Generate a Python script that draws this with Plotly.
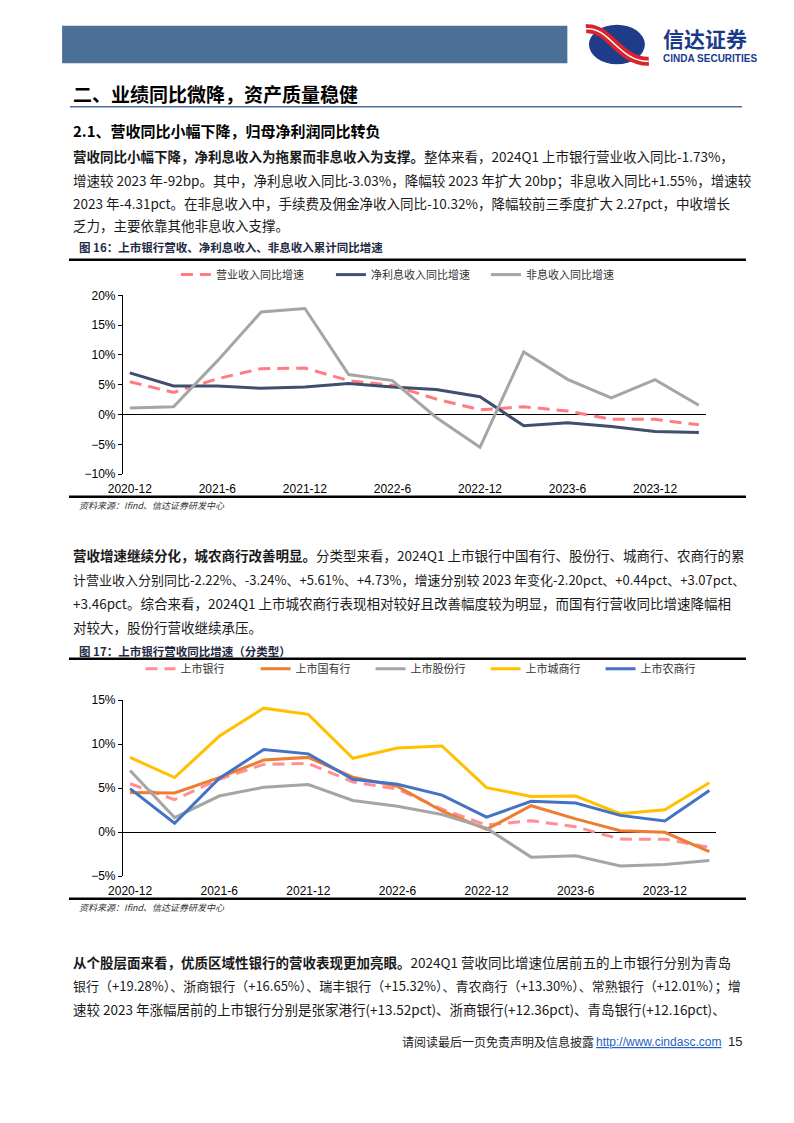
import plotly.graph_objects as go

W, H = 794, 1123
CJK = "Noto Sans CJK SC"
NUM = "Liberation Sans"

quarters = ["2020-12", "2021-3", "2021-6", "2021-9", "2021-12", "2022-3", "2022-6",
            "2022-9", "2022-12", "2023-3", "2023-6", "2023-9", "2023-12", "2024-3"]
tick_labels = ["2020-12", "2021-6", "2021-12", "2022-6", "2022-12", "2023-6", "2023-12"]

# 图16 (%)
rev_growth = [5.5, 3.7, 6.0, 7.7, 7.8, 5.7, 4.9, 2.6, 0.8, 1.3, 0.6, -0.8, -0.81, -1.73]
nii_growth = [7.0, 4.8, 4.8, 4.4, 4.6, 5.2, 4.6, 4.2, 3.0, -1.9, -1.4, -2.0, -2.83, -3.03]
nonii_growth = [1.1, 1.3, 9.0, 17.2, 17.8, 6.7, 5.7, -0.5, -5.5, 10.5, 5.9, 2.8, 5.86, 1.55]

# 图17 (%)
listed_banks = rev_growth
state_owned = [4.5, 4.45, 6.2, 8.2, 8.5, 6.25, 5.2, 2.4, 0.3, 3.0, 1.5, 0.15, -0.02, -2.22]
joint_stock = [7.0, 1.65, 4.1, 5.1, 5.4, 3.6, 2.95, 2.0, 0.45, -2.85, -2.7, -3.86, -3.68, -3.24]
city_comm = [8.5, 6.2, 10.9, 14.1, 13.4, 8.4, 9.56, 9.8, 5.06, 4.05, 4.1, 2.1, 2.54, 5.61]
rural_comm = [4.95, 1.0, 6.1, 9.4, 8.9, 6.0, 5.45, 4.2, 1.7, 3.5, 3.3, 1.9, 1.27, 4.73]


def px(x):
    return x / W


def py(y):
    return 1 - y / H


def note(x, y, s, size=13.5, color="#1a1a1a", family=CJK, xanchor="left"):
    return dict(x=px(x), y=py(y), xref="paper", yref="paper", text=s, showarrow=False,
                xanchor=xanchor, yanchor="middle", font=dict(family=family, size=size, color=color))


def hline(x0, x1, y, color="black", width=2.5):
    return dict(type="line", xref="paper", yref="paper", x0=px(x0), x1=px(x1),
                y0=py(y), y1=py(y), line=dict(color=color, width=width))


fig = go.Figure()

# chart 1
c1 = [
    ("营业收入同比增速", rev_growth, "#FF7C80", "12px,7px"),
    ("净利息收入同比增速", nii_growth, "#404F6E", "solid"),
    ("非息收入同比增速", nonii_growth, "#A5A5A5", "solid"),
]
for name, vals, color, dash in c1:
    fig.add_trace(go.Scatter(x=quarters, y=vals, mode="lines", name=name,
                             line=dict(color=color, width=3, dash=dash),
                             xaxis="x", yaxis="y", legend="legend"))

# chart 2
c2 = [
    ("上市银行", listed_banks, "#FF8F94", "12px,7px"),
    ("上市国有行", state_owned, "#ED7D31", "solid"),
    ("上市股份行", joint_stock, "#A5A5A5", "solid"),
    ("上市城商行", city_comm, "#FFC000", "solid"),
    ("上市农商行", rural_comm, "#4472C4", "solid"),
]
for name, vals, color, dash in c2:
    fig.add_trace(go.Scatter(x=quarters, y=vals, mode="lines", name=name,
                             line=dict(color=color, width=3, dash=dash),
                             xaxis="x2", yaxis="y2", legend="legend2"))

# plot geometry (page pixels)
d1_y = [py(473), py(292)]
d2_y = [py(880), py(702)]
y1_range = [-10, 20]
y2_range = [-5, 15]
x1_range = [-0.157, 13.157]
x2_range = [-0.16, 13.16]
zero1 = d1_y[0] + (0 - y1_range[0]) / (y1_range[1] - y1_range[0]) * (d1_y[1] - d1_y[0])
zero2 = d2_y[0] + (0 - y2_range[0]) / (y2_range[1] - y2_range[0]) * (d2_y[1] - d2_y[0])
tick_pos = [quarters.index(t) - 0.14 for t in tick_labels]

xlab = dict(type="category", categoryorder="array", categoryarray=quarters,
            tickmode="array", tickvals=tick_labels, ticktext=tick_labels,
            showline=False, showgrid=False, zeroline=False, ticks="", ticklabelstandoff=6,
            tickfont=dict(family=NUM, size=12, color="black"))
ystyle = dict(showline=True, linecolor="black", linewidth=1, ticks="outside", ticklen=4,
              tickcolor="black", ticksuffix="%", dtick=5, showgrid=False,
              zeroline=True, zerolinecolor="black", zerolinewidth=1,
              tickfont=dict(family=NUM, size=12, color="black"))
xtick = dict(type="linear", tickmode="array", tickvals=tick_pos, showticklabels=False,
             ticks="outside", ticklen=4, tickcolor="black", showgrid=False,
             zeroline=False, showline=False, anchor="free")

fig.update_layout(
    width=W, height=H, margin=dict(l=0, r=0, t=0, b=0),
    paper_bgcolor="white", plot_bgcolor="white",
    xaxis=dict(domain=[px(110), px(704)], range=x1_range, anchor="y", **xlab),
    yaxis=dict(domain=d1_y, range=y1_range, anchor="x", **ystyle),
    xaxis2=dict(domain=[px(110), px(715)], range=x2_range, anchor="y2", **xlab),
    yaxis2=dict(domain=d2_y, range=y2_range, anchor="x2", **ystyle),
    xaxis3=dict(domain=[px(110), px(704)], range=x1_range, overlaying="x", position=zero1, **xtick),
    xaxis4=dict(domain=[px(110), px(715)], range=x2_range, overlaying="x2", position=zero2, **xtick),
    legend=dict(orientation="h", x=px(401), xanchor="center", y=py(271), yanchor="middle",
                entrywidth=110, entrywidthmode="pixels",
                font=dict(family=CJK, size=11, color="#333333"), bgcolor="rgba(0,0,0,0)"),
    legend2=dict(orientation="h", x=px(421), xanchor="center", y=py(670), yanchor="middle",
                 entrywidth=70, entrywidthmode="pixels",
                 font=dict(family=CJK, size=11, color="#333333"), bgcolor="rgba(0,0,0,0)"),
)

annotations = [
    note(57, 88, "<b>二、业绩同比微降，资产质量稳健</b>", size=19, color="black"),
    note(57, 125, "<b>2.1、营收同比小幅下降，归母净利润同比转负</b>", size=15, color="black"),
    note(57, 151, "<b>营收同比小幅下降，净利息收入为拖累而非息收入为支撑。</b>整体来看，2024Q1 上市银行营业收入同比-1.73%，"),
    note(57, 175, "增速较 2023 年-92bp。其中，净利息收入同比-3.03%，降幅较 2023 年扩大 20bp；非息收入同比+1.55%，增速较"),
    note(57, 198, "2023 年-4.31pct。在非息收入中，手续费及佣金净收入同比-10.32%，降幅较前三季度扩大 2.27pct，中收增长"),
    note(57, 221, "乏力，主要依靠其他非息收入支撑。"),
    note(63, 243, "<b>图 16：上市银行营收、净利息收入、非息收入累计同比增速</b>", size=11.5, color="#1F2A44"),
    note(63, 505, "<i>资料来源：Ifind、信达证券研发中心</i>", size=9, color="#333333"),
    note(57, 555, "<b>营收增速继续分化，城农商行改善明显。</b>分类型来看，2024Q1 上市银行中国有行、股份行、城商行、农商行的累"),
    note(57, 580, "计营业收入分别同比-2.22%、-3.24%、+5.61%、+4.73%，增速分别较 2023 年变化-2.20pct、+0.44pct、+3.07pct、", size=13),
    note(57, 604, "+3.46pct。综合来看，2024Q1 上市城农商行表现相对较好且改善幅度较为明显，而国有行营收同比增速降幅相"),
    note(57, 628, "对较大，股份行营收继续承压。"),
    note(63, 652, "<b>图 17：上市银行营收同比增速（分类型）</b>", size=11.5, color="#1F2A44"),
    note(63, 912, "<i>资料来源：Ifind、信达证券研发中心</i>", size=9, color="#333333"),
    note(57, 967, "<b>从个股层面来看，优质区域性银行的营收表现更加亮眼。</b>2024Q1 营收同比增速位居前五的上市银行分别为青岛"),
    note(57, 991, "银行（+19.28%）、浙商银行（+16.65%）、瑞丰银行（+15.32%）、青农商行（+13.30%）、常熟银行（+12.01%）；增", size=13),
    note(57, 1015, "速较 2023 年涨幅居前的上市银行分别是张家港行(+13.52pct)、浙商银行(+12.36pct)、青岛银行(+12.16pct)、"),
    note(392, 1048, "请阅读最后一页免责声明及信息披露", size=12, color="#222222"),
    note(590, 1048, "<u>http://www.cindasc.com</u>", size=12, color="#1F5FBF", family=NUM),
    note(725, 1048, "15", size=13, color="#222222", family=NUM),
    note(658, 31, "<b>信达证券</b>", size=21, color="#1B3A8C"),
    note(658, 52, "<b>CINDA SECURITIES</b>", size=10, color="#1B3A8C", family=NUM),
]
fig.update_layout(annotations=annotations)

shapes = [
    dict(type="rect", xref="paper", yref="paper", x0=px(48), x1=px(563), y0=py(57), y1=py(19),
         fillcolor="#4B6F97", line=dict(width=0)),
    dict(type="circle", xref="paper", yref="paper", x0=px(585), x1=px(642), y0=py(58), y1=py(18),
         fillcolor="#1F3C88", line=dict(width=0)),
    dict(type="path", xref="paper", yref="paper",
         path=f"M {px(582)} {py(22)} C {px(606)} {py(20)}, {px(616)} {py(56)}, {px(646)} {py(55)}",
         line=dict(color="#D9232D", width=9)),
    dict(type="path", xref="paper", yref="paper",
         path=f"M {px(582)} {py(22)} C {px(606)} {py(20)}, {px(616)} {py(56)}, {px(646)} {py(55)}",
         line=dict(color="white", width=1.5)),
    hline(56, 741, 101, color="#4B6F97", width=1.5),
    hline(55, 745, 256),
    hline(55, 745, 496),
    hline(55, 745, 660),
    hline(55, 745, 903),
]
fig.update_layout(shapes=shapes)

# page body has a default margin; drop it so the figure sits at the page origin
fig.write_html("out.html", config={"displayModeBar": False},
               post_script="document.body.style.margin='0px';")
